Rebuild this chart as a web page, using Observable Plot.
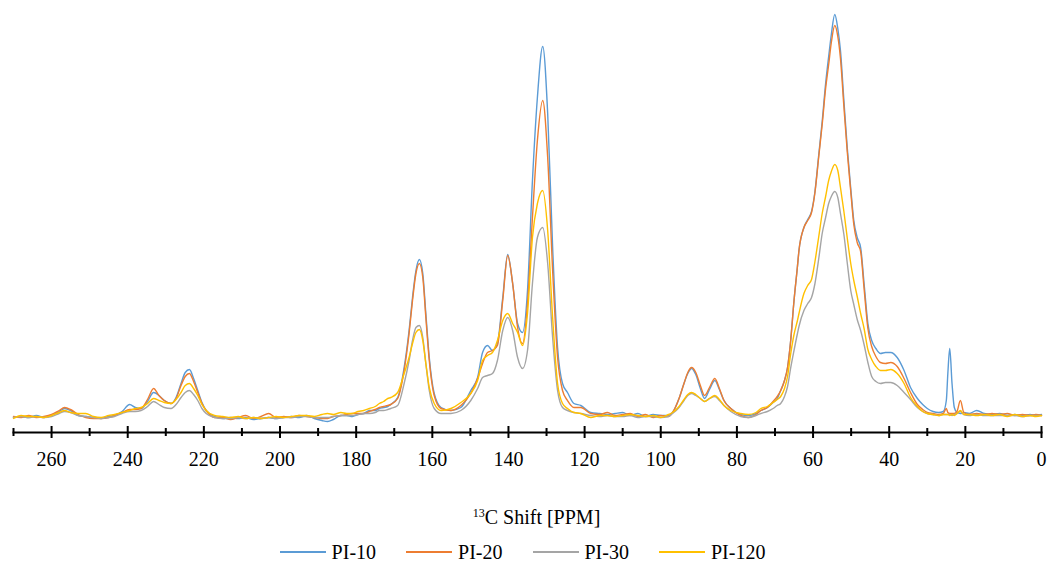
<!DOCTYPE html>
<html><head><meta charset="utf-8">
<script src="https://cdn.jsdelivr.net/npm/d3@7"></script>
<script src="https://cdn.jsdelivr.net/npm/@observablehq/plot@0.6"></script>
<style>
body{margin:0;background:#fff;font-family:"Liberation Serif","Times New Roman",serif;color:#000;}
#wrap{width:1051px;}
svg text{font-family:"Liberation Serif","Times New Roman",serif !important;}
#xtitle{width:1051px;box-sizing:border-box;padding-left:22px;text-align:center;font-size:20px;line-height:22px;margin-top:26px;}
#xtitle sup{font-size:12px;vertical-align:7px;line-height:0;}
#legend{width:1051px;box-sizing:border-box;padding-right:6px;display:flex;justify-content:center;align-items:center;font-size:20px;line-height:22px;margin-top:13px;}
.item{display:flex;align-items:center;margin:0 15px;}
.sw{width:46px;height:2px;margin-right:6px;}
</style></head><body><div id="wrap"></div>
<script>
const ppm = [270,268,266,264,262,260,258,256.6,255,253,251,249,247,245,243.5,241.5,239.5,238,236.5,234.8,233.2,231.8,230.4,228.6,227.3,226,224.9,223.8,222.7,221.6,220.5,219.4,217.2,215,213,211,209,207,205,203,201,199,197,195,193,191,189,187.5,186,184,182.5,181,179.5,178,176.5,175,173.9,172.8,171.7,170.9,169.1,167.4,166.1,165.2,164.3,163.4,162.5,161.7,160.8,159.5,157.7,155.1,152.5,149.9,148.1,146.8,145.5,144.2,142.9,141.5,140.2,138.9,137.6,136.3,135,133.7,132.4,131,129.7,128.4,127.1,125.8,124.5,122.8,121,118.4,116,114,112,110,108,106,104,102,100,98,96.9,95.2,93.9,92.9,91.9,90.8,89.6,88.5,87.2,85.8,84.6,83.4,81.6,79,77,75,73.7,72,70.5,69.4,68.5,67.5,66.7,65.9,65,64.1,63.7,62.4,61.4,60.4,59.5,58.5,57.6,56.7,55.9,55.2,54.3,53.5,52.8,51.9,51,50.1,49.3,48.4,47.5,46.6,45.6,44.6,43.5,42.3,41,39.6,37.9,36.1,34.4,32.6,31.2,30,28.5,27,25.8,25,24.6,24.1,23.5,22.9,22.2,21.3,20.4,19,17,15,13,11,9,7,5,3,1.5,0];

const pi10 = [-1,0,-1,1,-1,1,5,8,6,1,0,-1,-2,0,1,5,12,9,8,15,24,21,16,13,19,33,44,47,38,26,14,6,0,-2,-1,-2,-1,-3,-2,-1,-2,-1,0,-1,1,-2,-4,-5,-3,1,1,0,2,3,6,6,8,9,10,12,19,49,86,119,146,157,143,103,59,23,9,6,9,26,39,64,71,66,73,119,162,133,93,84,126,236,319,370,303,169,69,33,24,13,11,4,3,2,3,4,1,3,0,2,1,1,4,18,33,43,48,42,28,18,27,36,27,16,8,2,1,3,6,9,14,18,26,36,49,75,116,150,166,189,197,205,225,262,295,333,360,382,402,388,366,316,268,228,196,179,169,133,93,76,68,63,64,64,59,46,29,18,12,8,5,4,5,16,43,68,33,9,4,3,4,3,6,3,2,3,1,2,1,2,1,2];

const pi20 = [0,-1,1,-1,0,2,6,9,7,2,-1,-2,-2,-1,1,4,7,7,8,17,28,21,16,13,18,31,40,43,35,24,13,6,-1,-1,-3,-1,1,-2,0,3,-1,0,-1,1,0,-1,-2,-2,0,1,2,3,3,3,5,7,9,10,11,12,18,46,83,116,143,153,139,99,56,21,8,6,11,23,38,53,64,66,71,116,161,133,89,73,113,199,276,316,259,146,59,26,16,9,9,3,2,4,1,2,3,0,2,-1,1,0,4,18,33,44,49,44,31,21,29,38,28,16,8,1,-1,2,6,9,15,20,26,36,49,75,116,150,166,189,196,204,224,260,292,328,352,374,391,380,358,310,264,225,192,174,165,128,88,70,60,54,53,54,50,38,24,12,7,4,3,2,3,8,4,3,3,3,5,16,4,2,3,2,3,2,3,1,2,1,2,1];

const pi30 = [-1,0,-1,0,-1,0,3,5,4,1,0,-1,-2,-1,0,3,5,5,6,10,15,12,9,8,12,19,24,26,22,16,8,3,-1,-2,-2,-1,-2,-1,-2,-1,-2,-1,-1,0,0,-1,-1,-1,0,1,1,1,2,3,3,4,6,6,7,8,11,33,56,76,89,91,79,53,26,8,3,3,6,16,28,39,41,43,56,86,99,86,59,48,66,133,179,189,153,79,26,9,6,4,3,1,0,1,0,0,1,-1,0,0,-1,0,3,9,16,21,23,21,18,15,18,20,16,11,5,0,-1,1,3,5,8,11,13,20,30,48,66,83,90,106,113,119,133,158,183,199,213,220,225,219,203,182,153,126,112,97,86,72,54,40,35,33,34,34,31,24,17,9,5,3,2,1,2,2,2,2,1,2,3,5,2,1,2,1,1,1,1,1,0,1,1,1];

const pi120 = [-2,1,0,0,-1,1,4,6,4,3,3,0,-1,1,2,4,6,8,9,13,18,16,14,13,17,24,31,33,28,21,12,6,1,0,-1,0,-2,-1,-2,-1,0,-1,0,1,1,0,2,3,2,4,3,3,5,6,8,10,13,15,18,19,24,43,59,73,84,87,76,53,29,13,6,8,14,23,36,56,61,64,76,96,103,93,84,71,103,179,213,226,186,99,33,13,8,4,3,-1,1,1,0,1,2,1,0,1,-1,2,4,10,17,22,24,22,18,15,18,21,17,11,6,3,2,4,8,10,14,17,20,28,40,62,82,96,103,123,131,137,155,180,203,220,236,245,252,246,229,205,178,153,136,120,103,88,67,57,50,46,46,47,43,33,19,10,5,3,2,1,2,2,2,1,2,1,3,6,2,2,1,2,1,2,0,2,0,1,0,1];

const seriesNames = ["PI-10", "PI-20", "PI-30", "PI-120"];
const seriesColors = ["#5B9BD5", "#ED7D31", "#A5A5A5", "#FFC000"];
const majorTicks = [0, 20, 40, 60, 80, 100, 120, 140, 160, 180, 200, 220, 240, 260];
const minorTicks = [10, 30, 50, 70, 90, 110, 130, 150, 170, 190, 210, 230, 250, 270];
const xDomain = [270, 0];
const xTitleHTML = "<sup>13</sup>C Shift [PPM]";
const serif = '"Liberation Serif","Times New Roman",serif';

const seriesValues = [pi10, pi20, pi30, pi120];
const rows = seriesNames.flatMap((name, i) =>
  ppm.map((p, j) => ({ppm: p, intensity: seriesValues[i][j], series: name})));

const chart = Plot.plot({
  width: 1051,
  height: 480,
  marginTop: 10,
  marginBottom: 48,
  marginLeft: 13,
  marginRight: 10,
  style: {fontFamily: serif, color: "#000", background: "#fff"},
  x: {domain: xDomain},
  y: {domain: [-16, 406], axis: null},
  color: {domain: seriesNames, range: seriesColors},
  marks: [
    Plot.line(rows, {x: "ppm", y: "intensity", z: "series", stroke: "series", strokeWidth: 1.4, curve: "monotone-x"}),
    Plot.frame({anchor: "bottom", stroke: "#000", strokeWidth: 2}),
    Plot.axisX({ticks: majorTicks, tickSize: 12, dy: -6, tickFormat: () => "", label: null, stroke: "#000", strokeWidth: 2}),
    Plot.axisX({ticks: minorTicks, tickSize: 8, dy: -4, tickFormat: () => "", label: null, stroke: "#000", strokeWidth: 2}),
    Plot.axisX({ticks: majorTicks, tickSize: 0, tickPadding: 19, fontSize: 20, fontFamily: serif, label: null, fill: "#000"})
  ]
});

const wrap = document.getElementById("wrap");
wrap.appendChild(chart);
const t = document.createElement("div");
t.id = "xtitle";
t.innerHTML = xTitleHTML;
wrap.appendChild(t);
const lg = document.createElement("div");
lg.id = "legend";
seriesNames.forEach((n, i) => {
  const it = document.createElement("div");
  it.className = "item";
  const sw = document.createElement("span");
  sw.className = "sw";
  sw.style.background = seriesColors[i];
  const tx = document.createElement("span");
  tx.textContent = n;
  it.appendChild(sw); it.appendChild(tx);
  lg.appendChild(it);
});
wrap.appendChild(lg);
</script></body></html>
